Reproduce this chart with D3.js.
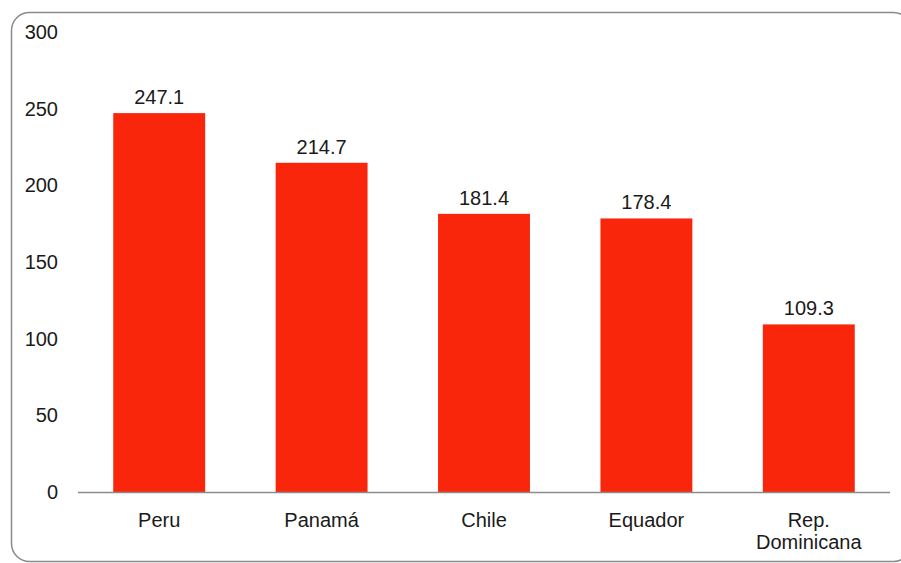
<!DOCTYPE html>
<html>
<head>
<meta charset="utf-8">
<script src="https://cdn.jsdelivr.net/npm/d3@7"></script>
<style>
html,body{margin:0;padding:0;background:#fff;}
svg text{font-family:"Liberation Sans",Arial,Helvetica,sans-serif;fill:#1a1a1a;}
</style>
</head>
<body>
<svg id="chart" width="901" height="563"></svg>
<script>
const categories = ["Peru", "Panamá", "Chile", "Equador", "Rep.\nDominicana"];
const values = [247.1, 214.7, 181.4, 178.4, 109.3];
const yTicks = [0, 50, 100, 150, 200, 250, 300];

const svg = d3.select("#chart");

svg.append("rect")
  .attr("x", 11.5).attr("y", 12.5)
  .attr("width", 900).attr("height", 549)
  .attr("rx", 18).attr("ry", 18)
  .attr("fill", "none").attr("stroke", "#8a8a8a").attr("stroke-width", 1.5);

const x = d3.scaleBand().domain(categories).range([78, 890]).paddingInner(0.434).paddingOuter(0.217);
const y = d3.scaleLinear().domain([0, 300]).range([492, 32]);

svg.append("g").selectAll("text").data(yTicks).join("text")
  .attr("x", 58).attr("y", d => y(d)).attr("dy", "0.35em")
  .attr("text-anchor", "end").attr("font-size", 20).text(d => d);

svg.selectAll("rect.bar").data(values).join("rect")
  .attr("class", "bar")
  .attr("x", (d, i) => x(categories[i]))
  .attr("width", x.bandwidth())
  .attr("y", d => y(d))
  .attr("height", d => y(0) - y(d))
  .attr("fill", "#fa260c");

svg.append("line")
  .attr("x1", 78).attr("x2", 890)
  .attr("y1", y(0) + 0.5).attr("y2", y(0) + 0.5)
  .attr("stroke", "#8c8c8c").attr("stroke-width", 1.5);

svg.append("g").selectAll("text").data(values).join("text")
  .attr("x", (d, i) => x(categories[i]) + x.bandwidth() / 2)
  .attr("y", d => y(d) - 9)
  .attr("text-anchor", "middle").attr("font-size", 20)
  .text(d => d.toFixed(1));

const xl = svg.append("g").selectAll("text").data(categories).join("text")
  .attr("x", d => x(d) + x.bandwidth() / 2)
  .attr("y", 527)
  .attr("text-anchor", "middle").attr("font-size", 20);
xl.each(function(d) {
  const lines = d.split("\n");
  const t = d3.select(this);
  const x0 = +t.attr("x");
  lines.forEach((l, j) => {
    t.append("tspan").attr("x", x0).attr("dy", j === 0 ? 0 : 22).text(l);
  });
});
</script>
</body>
</html>
